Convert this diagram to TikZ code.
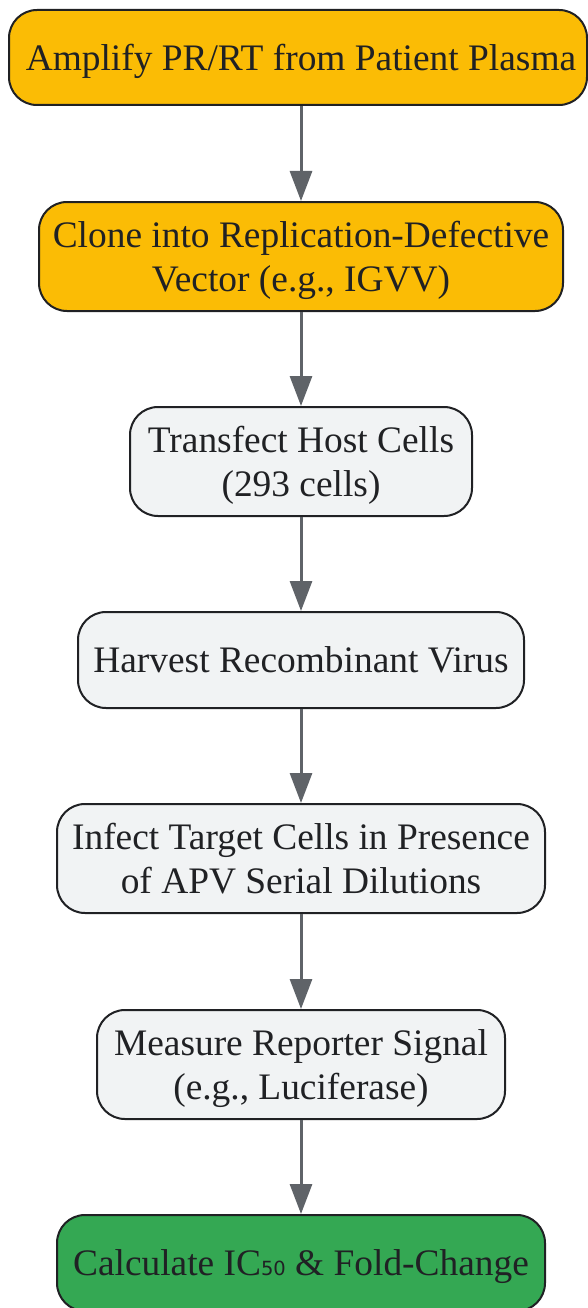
\documentclass[tikz,border=0pt]{standalone}
\usepackage{fontspec}
\setmainfont{Liberation Serif}
\newfontfamily\subfont{DejaVu Sans}
\usetikzlibrary{arrows.meta}
\definecolor{orangefill}{HTML}{FBBC05}
\definecolor{grayfill}{HTML}{F1F3F4}
\definecolor{greenfill}{HTML}{34A853}
\definecolor{arrowgray}{HTML}{5F6368}
\definecolor{bordercol}{HTML}{202124}
\definecolor{textcol}{HTML}{202124}
\newcommand{\lowtext}[1]{\raisebox{-4pt}[\height][\depth]{\begin{tabular}{@{}c@{}}#1\end{tabular}}}
\tikzset{
  box/.style={draw=bordercol, line width=2pt, rounded corners=28pt, align=center,
    text=textcol, inner sep=0pt,
    font=\fontsize{37.4}{44}\selectfont},
  orangebox/.style={box, fill=orangefill},
  graybox/.style={box, fill=grayfill},
  greenbox/.style={box, fill=greenfill},
  flow/.style={draw=arrowgray, line width=3pt, -{Triangle[length=30pt,width=22pt]}},
}
\begin{document}
\begin{tikzpicture}[x=1pt,y=-1pt]
\useasboundingbox (0,0) rectangle (588,1308);
\fill[white] (0,0) rectangle (588,1308);
\node[orangebox, minimum width=578pt, minimum height=95pt] (n1) at (298,57.5) {\hspace*{6pt}\lowtext{Amplify PR/RT from Patient Plasma}};
\node[orangebox, minimum width=524pt, minimum height=109pt] (n2) at (301,256.5) {\lowtext{Clone into Replication-Defective\\Vector (e.g., IGVV)}};
\node[graybox, minimum width=342pt, minimum height=109pt] (n3) at (301,461.5) {\lowtext{Transfect Host Cells\\(293 cells)}};
\node[graybox, minimum width=446pt, minimum height=96pt] (n4) at (301,660) {\lowtext{Harvest Recombinant Virus}};
\node[graybox, minimum width=488pt, minimum height=109pt] (n5) at (301,858.5) {\lowtext{Infect Target Cells in Presence\\of APV Serial Dilutions}};
\node[graybox, minimum width=408pt, minimum height=109pt] (n6) at (301,1064.5) {\lowtext{Measure Reporter Signal\\(e.g., Luciferase)}};
\node[greenbox, minimum width=488pt, minimum height=96pt] (n7) at (301,1263) {\lowtext{Calculate IC{\subfont\fontsize{19.5}{19.5}\selectfont 50} \& Fold-Change}};
\draw[flow] (n2.north |- n1.south) -- (n2.north);
\draw[flow] (n2.south) -- (n3.north);
\draw[flow] (n3.south) -- (n4.north);
\draw[flow] (n4.south) -- (n5.north);
\draw[flow] (n5.south) -- (n6.north);
\draw[flow] (n6.south) -- (n7.north);
\end{tikzpicture}
\end{document}
